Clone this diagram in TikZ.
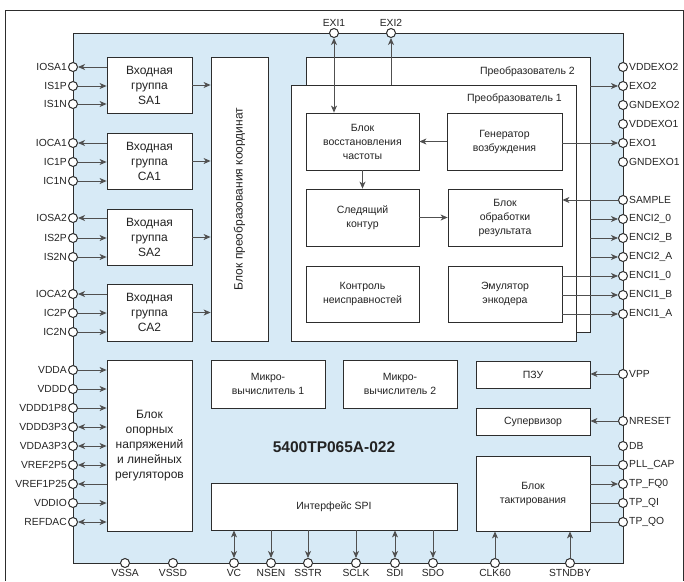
\documentclass[tikz,border=0pt]{standalone}
\usepackage{fontspec}
\setmainfont{Liberation Sans}
\usetikzlibrary{arrows.meta}
\definecolor{chipfill}{RGB}{215,234,246}
\definecolor{ln}{RGB}{45,45,45}
\definecolor{cn}{RGB}{80,80,80}
\definecolor{tx}{RGB}{35,35,35}
\begin{document}
\begin{tikzpicture}[x=1pt,y=-1pt,
  >={Stealth[length=7pt,width=6pt,inset=2pt]},
  blk/.style={draw=ln, fill=white, line width=0.8pt, inner sep=0pt, align=center, text=tx, font=\fontsize{10.5}{14}\selectfont},
  bigblk/.style={blk, font=\fontsize{12}{15}\selectfont},
  pin/.style={circle, draw=ln, fill=white, line width=1pt, minimum size=9pt, inner sep=0pt},
  plbl/.style={font=\fontsize{10.3}{12}\selectfont, text=tx, inner sep=1pt},
  con/.style={draw=cn, line width=0.9pt},
  lbl/.style={font=\fontsize{10.5}{12}\selectfont, text=tx, inner sep=0pt}
]
\useasboundingbox (0,0) rectangle (684,581);
% outer frame
\draw[ln, line width=0.8pt] (5,581) -- (5,10) -- (683,10) -- (683,581);
% chip
\draw[ln, line width=1pt, fill=chipfill] (73,33) rectangle (623,563);

% input groups
\node[bigblk, minimum width=85pt, minimum height=56pt] (SA1) at (149.5,85) {Входная\\группа\\SA1};
\node[bigblk, minimum width=85pt, minimum height=56pt] (CA1) at (149.5,161) {Входная\\группа\\CA1};
\node[bigblk, minimum width=85pt, minimum height=56pt] (SA2) at (149.5,237) {Входная\\группа\\SA2};
\node[bigblk, minimum width=85pt, minimum height=57pt] (CA2) at (149.5,312.5) {Входная\\группа\\CA2};
\node[bigblk, minimum width=57pt, minimum height=284pt] (Coord) at (239.5,199) {};
\node[lbl, font=\fontsize{12}{14}\selectfont, rotate=90] (CoordT) at (Coord.center) {Блок преобразования координат};
\node[bigblk, minimum width=85pt, minimum height=171pt] (Ref) at (149.5,445.5) {Блок\\опорных\\напряжений\\и линейных\\регуляторов};

% converters
\node[blk, minimum width=284pt, minimum height=275pt] (Conv2) at (448,194.5) {};
\node[blk, minimum width=285pt, minimum height=256pt] (Conv1) at (433.5,213) {};
\node[lbl, anchor=east] (Conv2T) at (575,72) {Преобразователь 2};
\node[lbl, anchor=east] (Conv1T) at (562,99) {Преобразователь 1};

\node[blk, minimum width=113pt, minimum height=57pt] (Vost) at (362.5,141.5) {Блок\\восстановления\\частоты};
\node[blk, minimum width=115pt, minimum height=57pt] (Gen) at (504.5,141.5) {Генератор\\возбуждения};
\node[blk, minimum width=113pt, minimum height=57pt] (Sled) at (362.5,217.5) {Следящий\\контур};
\node[blk, minimum width=114pt, minimum height=57pt] (Obr) at (505,217.5) {Блок\\обработки\\результата};
\node[blk, minimum width=113pt, minimum height=56pt] (Kontr) at (362.5,294) {Контроль\\неисправностей};
\node[blk, minimum width=114pt, minimum height=56pt] (Emu) at (505,294) {Эмулятор\\энкодера};

% lower blocks
\node[blk, minimum width=114pt, minimum height=48pt] (Mic1) at (268,384) {Микро-\\вычислитель 1};
\node[blk, minimum width=114pt, minimum height=48pt] (Mic2) at (400,384) {Микро-\\вычислитель 2};
\node[blk, minimum width=246pt, minimum height=47pt] (SPI) at (334,506.5) {Интерфейс SPI};
\node[blk, minimum width=114pt, minimum height=27pt] (PZU) at (533,374.5) {ПЗУ};
\node[blk, minimum width=114pt, minimum height=27pt] (Sup) at (533,421.5) {Супервизор};
\node[blk, minimum width=114pt, minimum height=75pt] (Takt) at (533,493.5) {Блок\\тактирования};
\node[font=\fontsize{15.5}{18}\bfseries, text=tx] (Title) at (334,447) {5400ТР065А-022};

% pins left
\foreach \n/\t/\y in {IOSA1/IOSA1/67, IS1P/IS1P/86, IS1N/IS1N/104, IOCA1/IOCA1/143, IC1P/IC1P/162, IC1N/IC1N/181,
  IOSA2/IOSA2/218, IS2P/IS2P/238, IS2N/IS2N/257, IOCA2/IOCA2/294, IC2P/IC2P/313, IC2N/IC2N/332,
  VDDA/VDDA/370, VDDD/VDDD/389, VDDDa/VDDD1P8/408, VDDDb/VDDD3P3/427, VDDAb/VDDA3P3/446, VREFa/VREF2P5/465,
  VREFb/VREF1P25/484, VDDIO/VDDIO/503, REFDAC/REFDAC/522}
  \node[pin, label={[plbl, label distance=0pt]left:\t}] (\n) at (73,\y) {};
% pins right
\foreach \n/\t/\y in {VDDEXOb/VDDEXO2/67, EXOb/EXO2/86, GNDEXOb/GNDEXO2/105, VDDEXOa/VDDEXO1/124, EXOa/EXO1/143, GNDEXOa/GNDEXO1/162,
  SAMPLE/SAMPLE/200, EBz/ENCI2\_0/219, EBb/ENCI2\_B/238, EBa/ENCI2\_A/257, EAz/ENCI1\_0/276, EAb/ENCI1\_B/295, EAa/ENCI1\_A/314,
  VPP/VPP/374, NRESET/NRESET/421, DB/DB/446, PLL/PLL\_CAP/465, TPF/TP\_FQ0/484, TPQI/TP\_QI/503, TPQO/TP\_QO/522}
  \node[pin, label={[plbl, label distance=0pt]right:\t}] (\n) at (623,\y) {};
% pins top
\foreach \n/\t/\x in {EXIa/EXI1/334, EXIb/EXI2/391}
  \node[pin, label={[plbl, label distance=0pt]above:\t}] (\n) at (\x,33) {};
% pins bottom
\foreach \n/\t/\x in {VSSA/VSSA/125, VSSD/VSSD/173, VC/VC/234, NSEN/NSEN/271, SSTR/SSTR/308, SCLK/SCLK/356,
  SDI/SDI/395, SDO/SDO/433, CLK/CLK60/495, STNDBY/STNDBY/570}
  \node[pin, label={[plbl, label distance=0.5pt]below:\t}] (\n) at (\x,563) {};

% left connectors
\draw[con,->] (SA1.west|-IOSA1) -- (IOSA1);
\draw[con,->] (IS1P) -- (SA1.west|-IS1P);
\draw[con,->] (IS1N) -- (SA1.west|-IS1N);
\draw[con,->] (CA1.west|-IOCA1) -- (IOCA1);
\draw[con,->] (IC1P) -- (CA1.west|-IC1P);
\draw[con,->] (IC1N) -- (CA1.west|-IC1N);
\draw[con,->] (SA2.west|-IOSA2) -- (IOSA2);
\draw[con,->] (IS2P) -- (SA2.west|-IS2P);
\draw[con,->] (IS2N) -- (SA2.west|-IS2N);
\draw[con,->] (CA2.west|-IOCA2) -- (IOCA2);
\draw[con,->] (IC2P) -- (CA2.west|-IC2P);
\draw[con,->] (IC2N) -- (CA2.west|-IC2N);
\foreach \g in {SA1,CA1,SA2,CA2}
  \draw[con,->] (\g.east) -- (\g.east-|Coord.west);
\draw[con,->] (VDDA) -- (Ref.west|-VDDA);
\draw[con,->] (VDDD) -- (Ref.west|-VDDD);
\draw[con,->] (VDDDa) -- (Ref.west|-VDDDa);
\draw[con,<->] (VDDDb) -- (Ref.west|-VDDDb);
\draw[con,<->] (VDDAb) -- (Ref.west|-VDDAb);
\draw[con,<->] (VREFa) -- (Ref.west|-VREFa);
\draw[con,<-] (VREFb) -- (Ref.west|-VREFb);
\draw[con,->] (VDDIO) -- (Ref.west|-VDDIO);
\draw[con,<->] (REFDAC) -- (Ref.west|-REFDAC);

% top connectors
\draw[con,<->] (EXIa) -- (Vost.north-|EXIa);
\draw[con,->] (Conv1.north-|EXIb) -- (EXIb);
\draw[con,->] (Gen.west) -- (Vost.east);
\draw[con,->] (Vost.south) -- (Sled.north);
\draw[con,->] (Sled.east) -- (Obr.west);

% right connectors
\draw[con,->] (Conv2.east|-EXOb) -- (EXOb);
\draw[con,->] (Gen.east|-EXOa) -- (EXOa);
\draw[con,->] (SAMPLE) -- (Obr.east|-SAMPLE);
\foreach \p in {EBz,EBb,EBa}
  \draw[con,->] (Conv2.east|-\p) -- (\p);
\foreach \p in {EAz,EAb,EAa}
  \draw[con,->] (Emu.east|-\p) -- (\p);
\draw[con,->] (VPP) -- (PZU.east|-VPP);
\draw[con,->] (NRESET) -- (Sup.east|-NRESET);
\draw[con] (Takt.east|-PLL) -- (PLL);
\draw[con,->] (Takt.east|-TPF) -- (TPF);
\draw[con] (Takt.east|-TPQI) -- (TPQI);
\draw[con] (Takt.east|-TPQO) -- (TPQO);

% bottom connectors
\draw[con,<->] (VC) -- (SPI.south-|VC);
\draw[con,->] (SPI.south-|NSEN) -- (NSEN);
\draw[con,->] (SPI.south-|SSTR) -- (SSTR);
\draw[con,->] (SPI.south-|SCLK) -- (SCLK);
\draw[con,<->] (SDI) -- (SPI.south-|SDI);
\draw[con,->] (SPI.south-|SDO) -- (SDO);
\draw[con,->] (CLK) -- (Takt.south-|CLK);
\draw[con,->] (STNDBY) -- (Takt.south-|STNDBY);
\end{tikzpicture}
\end{document}
